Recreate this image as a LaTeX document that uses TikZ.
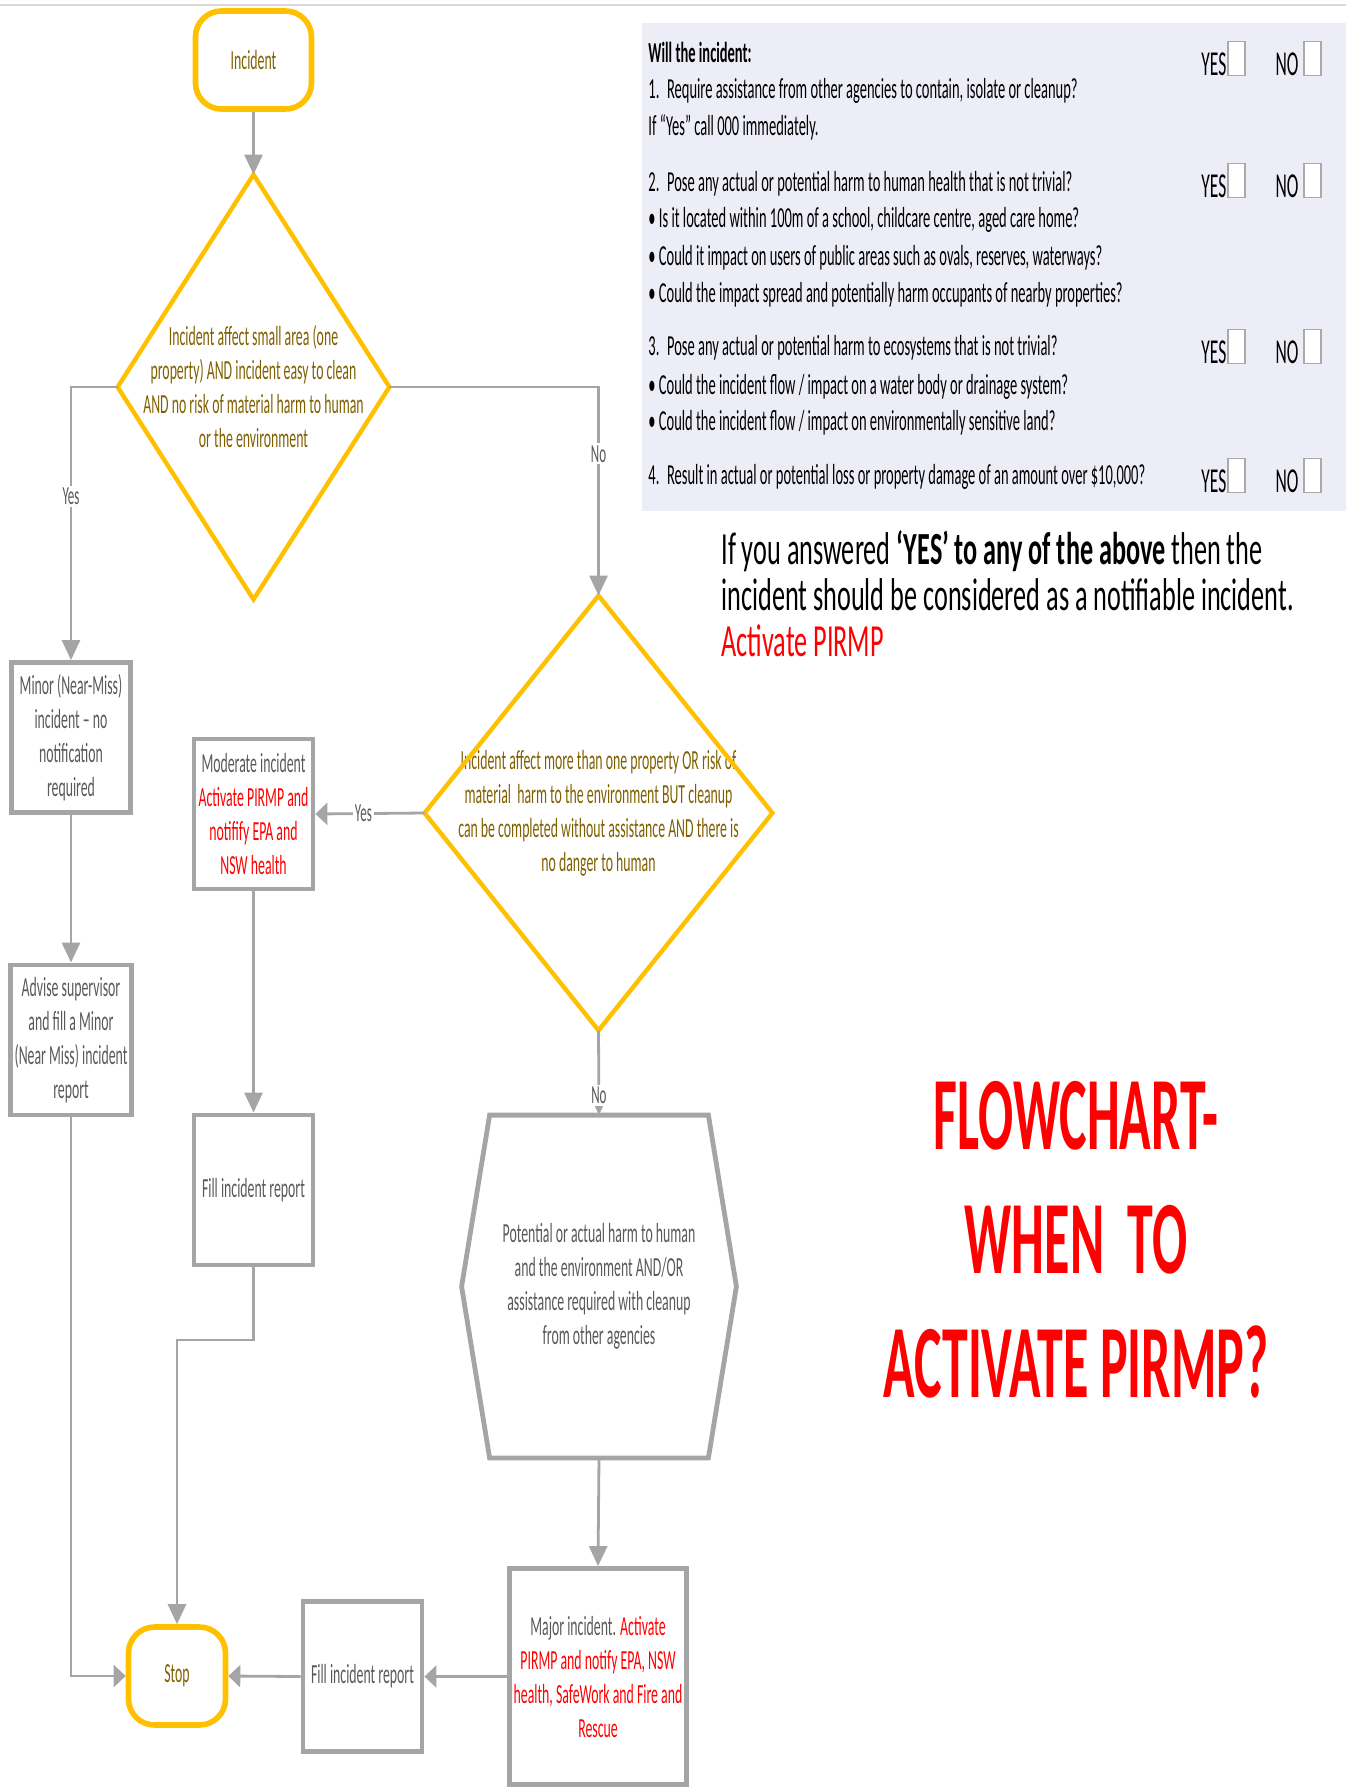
\documentclass[tikz,border=0pt]{standalone}
\usepackage{fontspec}
\setmainfont{Carlito}[FakeStretch=0.5]
\newfontfamily\noticefont{Carlito}[FakeStretch=0.57]
\usepackage{tikz}
\usetikzlibrary{positioning}
\usetikzlibrary{arrows.meta}
\usepackage{xcolor}
\definecolor{termyellow}{RGB}{255,192,0}
\definecolor{qolive}{RGB}{127,96,0}
\definecolor{boxgray}{RGB}{165,165,165}
\definecolor{boxtext}{RGB}{89,89,89}
\definecolor{alertred}{RGB}{255,0,0}
\definecolor{panelbg}{RGB}{237,237,247}
\definecolor{chkgray}{RGB}{170,170,170}
\definecolor{topgray}{RGB}{217,217,217}
\newcommand{\fsize}[2]{\fontsize{#1}{#2}\selectfont}
\newcommand{\redtxt}[1]{\textcolor{alertred}{#1}}
\newcommand{\chkbox}{{\setlength{\fboxsep}{0pt}\setlength{\fboxrule}{0.6pt}\fcolorbox{chkgray}{white}{\rule{0pt}{16.4pt}\hspace{7.9pt}}}}
\newcommand{\widthbox}{59.5pt}
\newcommand{\heightbox}{75pt}
\tikzset{
    common/.style={draw=boxgray, line width=2.4pt, rectangle, align=center, text=boxtext, inner sep=2pt, font=\fsize{13.8pt}{17pt}},
    procbox/.style={common, minimum width=\widthbox, minimum height=\heightbox},
    terminal/.style={draw=termyellow, line width=2.8pt, rounded corners=13pt, minimum width=58pt, minimum height=49pt, text=qolive, font=\fsize{13.8pt}{17pt}},
    decision/.style={rectangle, align=center, text=qolive, inner sep=0pt, font=\fsize{13.8pt}{17pt}},
    outline/.style={draw=termyellow, line width=2.2pt},
    flow/.style={draw=boxgray, line width=1.4pt},
    vtip/.style={-{Triangle[length=10pt, width=9pt]}},
    htip/.style={-{Triangle[length=6pt, width=11pt]}},
    lbl/.style={fill=white, text=boxtext, inner sep=1pt, font=\fsize{13pt}{15pt}},
    panel/.style={fill=panelbg, anchor=north west, minimum width=352pt, minimum height=244pt, inner sep=0pt},
    qline/.style={anchor=base west, inner sep=0pt, font=\fsize{14.5pt}{16pt}},
    ynrow/.style={anchor=base west, inner sep=0pt, font=\fsize{17.5pt}{18pt}},
    notice/.style={anchor=west, align=left, inner sep=0pt, font=\noticefont\fsize{23pt}{23pt}},
    headline/.style={align=center, text=alertred, inner sep=0pt, font=\bfseries\fsize{52pt}{62pt}},
}

\begin{document}
\begin{tikzpicture}[x=0.5pt, y=-0.5pt]
    \useasboundingbox (0,0) rectangle (1346,1789);
    \draw[topgray, line width=1pt] (0,5) -- (1346,5);

    % checklist
    \node[panel] (panel) at (642,23) {};
    \node[qline, font=\bfseries\fsize{14.5pt}{16pt}] (head) at (648,62) {Will the incident:};
    \node[qline] (q1a) at (648,98) {1.~ Require assistance from other agencies to contain, isolate or cleanup?};
    \node[qline] (q1b) at (648,135) {If “Yes” call 000 immediately.};
    \node[qline] (q2a) at (648,191) {2.~ Pose any actual or potential harm to human health that is not trivial?};
    \node[qline] (q2b) at (648,227) {• Is it located within 100m of a school, childcare centre, aged care home?};
    \node[qline] (q2c) at (648,265) {• Could it impact on users of public areas such as ovals, reserves, waterways?};
    \node[qline] (q2d) at (648,302) {• Could the impact spread and potentially harm occupants of nearby properties?};
    \node[qline] (q3a) at (648,355) {3.~ Pose any actual or potential harm to ecosystems that is not trivial?};
    \node[qline] (q3b) at (648,394) {• Could the incident flow / impact on a water body or drainage system?};
    \node[qline] (q3c) at (648,430) {• Could the incident flow / impact on environmentally sensitive land?};
    \node[qline] (q4a) at (648,484) {4.~ Result in actual or potential loss or property damage of an amount over \$10,000?};
    \node[ynrow] (yn1) at (1201,75) {YES\hspace{0.5pt}\chkbox\hspace{15pt}NO\hspace{2.5pt}\chkbox};
    \node[ynrow] (yn2) at (1201,197) {YES\hspace{0.5pt}\chkbox\hspace{15pt}NO\hspace{2.5pt}\chkbox};
    \node[ynrow] (yn3) at (1201,363) {YES\hspace{0.5pt}\chkbox\hspace{15pt}NO\hspace{2.5pt}\chkbox};
    \node[ynrow] (yn4) at (1201,492) {YES\hspace{0.5pt}\chkbox\hspace{15pt}NO\hspace{2.5pt}\chkbox};

    \node[notice] (notice) at (721,594) {If you answered \textbf{‘YES’ to any of the above} then the\\incident should be considered as a notifiable incident.\\\redtxt{Activate PIRMP}};
    \node[headline] (title) at (1076,1240) {FLOWCHART-\\WHEN~ TO\\ACTIVATE PIRMP?};

    % flowchart
    \node[terminal] (Incident) at (253.5,60) {Incident};
    \node[decision, minimum width=135.5pt, minimum height=212pt] (Q1) at (253.5,387)
        {Incident affect small area (one\\property) AND incident easy to clean\\AND no risk of material harm to human\\or the environment};
    \draw[outline] (Q1.north) -- (Q1.east) -- (Q1.south) -- (Q1.west) -- cycle;
    \node[decision, minimum width=173.5pt, minimum height=217pt] (Q2) at (598.5,813)
        {Incident affect more than one property OR risk of\\material~ harm to the environment BUT cleanup\\can be completed without assistance AND there is\\no danger to human};
    \draw[outline] (Q2.north) -- (Q2.east) -- (Q2.south) -- (Q2.west) -- cycle;

    \node[procbox] (Minor) at (71,737.5) {Minor (Near-Miss)\\incident – no\\notification\\required};
    \node[procbox] (Advise) at (71,1040) {Advise supervisor\\and fill a Minor\\(Near Miss) incident\\report};
    \node[procbox] (Moderate) at (253.5,814) {Moderate incident\\\redtxt{Activate PIRMP and}\\\redtxt{notifify EPA and}\\\redtxt{NSW health}};
    \node[procbox] (FillMid) at (253.5,1190) {Fill incident report};
    \node[common, minimum width=107pt, minimum height=169pt, draw=none] (Harm) at (599,1286.5)
        {Potential or actual harm to human\\and the environment AND/OR\\assistance required with cleanup\\from other agencies};
    \draw[common] (Harm.north west) -- (Harm.north east) -- ([xshift=14pt]Harm.east) -- (Harm.south east)
        -- (Harm.south west) -- ([xshift=-14pt]Harm.west) -- cycle;
    \node[common, minimum width=86.5pt, minimum height=108pt] (Major) at (598,1676.5)
        {Major incident. \redtxt{Activate}\\\redtxt{PIRMP and notify EPA, NSW}\\\redtxt{health, SafeWork and Fire and}\\\redtxt{Rescue}};
    \node[procbox] (FillBot) at (362.5,1676.5) {Fill incident report};
    \node[terminal, minimum width=48.5pt] (Stop) at (177,1676) {Stop};
    \coordinate (turn) at (253.5,1340);

    \draw[flow, vtip] (Incident.south) -- (Q1.north);
    \draw[flow, vtip] (Q1.west) -| node[lbl, pos=0.7]{Yes} (Minor.north);
    \draw[flow, vtip] (Q1.east) -| node[lbl, pos=0.66]{No} (Q2.north);
    \draw[flow, htip] (Q2.west) -- node[lbl, pos=0.56]{Yes} (Moderate.east);
    \draw[flow, vtip] (Q2.south) -- node[lbl, pos=0.77]{No} (Harm.north);
    \draw[flow, vtip] (Minor.south) -- (Advise.north);
    \draw[flow, vtip] (Moderate.south) -- (FillMid.north);
    \draw[flow, vtip] (Harm.south) -- (Major.north);
    \draw[flow, vtip] (FillMid.south) -- (turn) -| (Stop.north);
    \draw[flow, htip] (Advise.south) |- (Stop.west);
    \draw[flow, htip] (Major.west) -- (FillBot.east);
    \draw[flow, htip] (FillBot.west) -- (Stop.east);
\end{tikzpicture}
\end{document}
